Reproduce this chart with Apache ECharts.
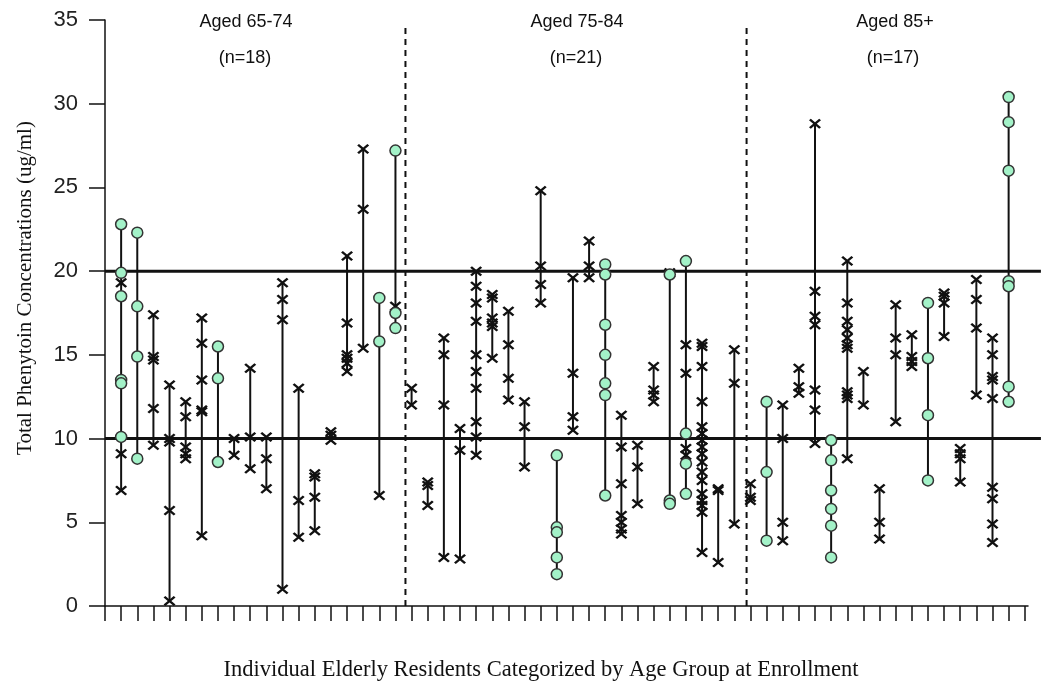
<!DOCTYPE html>
<html><head><meta charset="utf-8">
<script src="https://cdn.jsdelivr.net/npm/echarts@6/dist/echarts.min.js"></script>
<style>html,body{margin:0;padding:0;background:#fff}#c{width:1050px;height:688px}</style>
</head><body><div id="c"></div><script>
// ---- data ----
const groupTitles = ['Aged 65-74', 'Aged 75-84', 'Aged 85+'];
const groupCounts = ['(n=18)', '(n=21)', '(n=17)'];
const yTickValues = [0, 5, 10, 15, 20, 25, 30, 35];
const referenceLevels = [10, 20];

// one entry per resident; crosses = "x" marks, circles = green circles
const crosses6574 = [
  [19.3, 9.1, 6.9], [], [17.4, 14.9, 14.7, 11.8, 9.6], [13.2, 10.0, 9.8, 5.7, 0.3],
  [12.2, 11.3, 9.5, 9.1, 8.8], [17.2, 15.7, 13.5, 11.7, 11.6, 4.2], [], [10.0, 9.0],
  [14.2, 10.1, 8.2], [10.1, 8.8, 7.0], [19.3, 18.3, 17.1, 1.0], [13.0, 6.3, 4.1],
  [7.9, 7.7, 6.5, 4.5], [10.4, 10.2, 9.9], [20.9, 16.9, 15.0, 14.8, 14.5, 14.0],
  [27.3, 23.7, 15.4], [6.6], [17.9]
];
const circles6574 = [
  [22.8, 19.9, 18.5, 13.5, 13.3, 10.1], [22.3, 17.9, 14.9, 8.8], [], [],
  [], [], [15.5, 13.6, 8.6], [],
  [], [], [], [],
  [], [], [],
  [], [18.4, 15.8], [27.2, 17.5, 16.6]
];
const crosses7584 = [
  [13.0, 12.0], [7.4, 7.2, 6.0], [16.0, 15.0, 12.0, 2.9], [10.6, 9.3, 2.8],
  [20.0, 19.1, 18.1, 17.0, 15.0, 14.0, 13.0, 11.0, 10.1, 9.0],
  [18.6, 18.4, 17.2, 16.9, 16.7, 14.8], [17.6, 15.6, 13.6, 12.3], [12.2, 10.7, 8.3],
  [24.8, 20.3, 19.2, 18.1], [], [19.6, 13.9, 11.3, 10.5], [21.8, 20.3, 19.6], [],
  [11.4, 9.5, 7.3, 5.4, 5.0, 4.6, 4.3], [9.6, 8.3, 6.1], [14.3, 12.9, 12.6, 12.2],
  [19.9], [15.6, 13.9, 9.4, 9.0],
  [15.7, 15.5, 14.3, 12.2, 10.7, 10.3, 9.9, 9.5, 9.1, 8.6, 8.0, 7.5, 6.7, 6.3, 6.0, 5.6, 3.2],
  [7.0, 6.9, 2.6], [15.3, 13.3, 4.9]
];
const circles7584 = [
  [], [], [], [], [], [], [], [], [], [9.0, 4.7, 4.4, 2.9, 1.9], [], [],
  [20.4, 19.8, 16.8, 15.0, 13.3, 12.6, 6.6], [], [], [],
  [19.8, 6.3, 6.1], [20.6, 10.3, 8.5, 6.7], [], [], []
];
const crosses85 = [
  [7.3, 6.5, 6.3], [], [12.0, 10.0, 5.0, 3.9], [14.2, 13.1, 12.7],
  [28.8, 18.8, 17.3, 16.8, 12.9, 11.7, 9.7], [],
  [20.6, 18.1, 17.0, 16.5, 16.0, 15.6, 15.4, 12.8, 12.6, 12.4, 8.8],
  [14.0, 12.0], [7.0, 5.0, 4.0], [18.0, 16.0, 15.0, 11.0], [16.2, 14.9, 14.6, 14.3],
  [], [18.7, 18.5, 18.1, 16.1], [9.4, 9.1, 8.8, 7.4], [19.5, 18.3, 16.6, 12.6],
  [16.0, 15.0, 13.7, 13.5, 12.4, 7.1, 6.4, 4.9, 3.8], []
];
const circles85 = [
  [], [12.2, 8.0, 3.9], [], [], [], [9.9, 8.7, 6.9, 5.8, 4.8, 2.9], [], [], [], [], [],
  [18.1, 14.8, 11.4, 7.5], [], [], [], [], [30.4, 28.9, 26.0, 19.4, 19.1, 13.1, 12.2]
];

// ---- build series data ----
const groups = [[crosses6574, circles6574], [crosses7584, circles7584], [crosses85, circles85]];
const crossData = [], circleData = [], rangeData = [], groupSpans = [];
let idx = 1;
groups.forEach(([cr, ci]) => {
  const start = idx;
  cr.forEach((list, j) => {
    const all = list.concat(ci[j]);
    list.forEach(v => crossData.push([idx, v]));
    ci[j].forEach(v => circleData.push([idx, v]));
    rangeData.push([idx, Math.min.apply(null, all), Math.max.apply(null, all)]);
    idx++;
  });
  groupSpans.push([start, idx - 1]);
});
const nTicks = idx + 1; // ticks 0 .. idx
const tickValues = Array.from({length: nTicks}, (_, i) => i);
const dividerData = [[groupSpans[0][1] + 0.62, 0, 34.6], [groupSpans[1][1] + 0.76, 0, 34.6]];
const refData = referenceLevels.map(v => [0, 58.0, v]);

const crossPath = 'path://M1.5,0 L5,3.5 L8.5,0 L10,1.5 L6.5,5 L10,8.5 L8.5,10 L5,6.5 L1.5,10 L0,8.5 L3.5,5 L0,1.5 Z';

const chart = echarts.init(document.getElementById('c'), null, {renderer: 'canvas'});
chart.setOption({
  animation: false,
  backgroundColor: '#fff',
  grid: {left: 105, right: 22, top: 20, bottom: 82},
  xAxis: {
    type: 'value', min: 0, max: 57.2, interval: 1,
    axisLine: {show: true, lineStyle: {color: '#111', width: 1.5}},
    axisTick: {show: true, inside: false, length: 15, customValues: tickValues, lineStyle: {color: '#111', width: 1.5}},
    axisLabel: {show: false},
    splitLine: {show: false}
  },
  yAxis: {
    type: 'value', min: 0, max: 35, interval: 5,
    axisLine: {show: true, lineStyle: {color: '#111', width: 1.5}},
    axisTick: {show: true, inside: false, length: 16, lineStyle: {color: '#111', width: 1.5}},
    axisLabel: {margin: 27, fontFamily: 'Liberation Sans', fontSize: 22, color: '#222',
      formatter: v => yTickValues.indexOf(v) >= 0 ? String(v) : ''},
    splitLine: {show: false}
  },
  graphic: [
    {type: 'text', left: 'center', x: 0, style: {text: ''}},
    ...groupTitles.map((t, i) => ({type: 'text', x: [246, 577, 895][i], y: 22, style: {text: t, fontFamily: 'Liberation Sans', fontSize: 18, fill: '#111', align: 'center', verticalAlign: 'middle'}})),
    ...groupCounts.map((t, i) => ({type: 'text', x: [245, 576, 893][i], y: 58, style: {text: t, fontFamily: 'Liberation Sans', fontSize: 18, fill: '#111', align: 'center', verticalAlign: 'middle'}})),
    {type: 'text', x: 541, y: 670, style: {text: 'Individual Elderly Residents Categorized by Age Group at Enrollment', fontFamily: 'Liberation Serif', fontSize: 22.5, fill: '#111', align: 'center', verticalAlign: 'middle'}},
    {type: 'text', x: 25, y: 288, rotation: Math.PI / 2, style: {text: 'Total Phenytoin Concentrations (ug/ml)', fontFamily: 'Liberation Serif', fontSize: 21, fill: '#111', align: 'center', verticalAlign: 'middle'}}
  ],
  series: [
    {
      type: 'custom', data: refData, z: 1, silent: true,
      encode: {x: [0, 1], y: 2},
      renderItem: (p, api) => {
        const a = api.coord([api.value(0), api.value(2)]);
        const b = api.coord([api.value(1), api.value(2)]);
        return {type: 'line', shape: {x1: a[0], y1: a[1], x2: b[0], y2: b[1]}, style: {stroke: '#111', lineWidth: 3}};
      }
    },
    {
      type: 'custom', data: dividerData, z: 1, silent: true,
      encode: {x: 0, y: [1, 2]},
      renderItem: (p, api) => {
        const a = api.coord([api.value(0), api.value(1)]);
        const b = api.coord([api.value(0), api.value(2)]);
        return {type: 'line', shape: {x1: a[0], y1: a[1], x2: b[0], y2: b[1]}, style: {stroke: '#111', lineWidth: 2, lineDash: [6, 5]}};
      }
    },
    {
      type: 'custom', data: rangeData, z: 2, silent: true,
      encode: {x: 0, y: [1, 2]},
      renderItem: (p, api) => {
        const a = api.coord([api.value(0), api.value(1)]);
        const b = api.coord([api.value(0), api.value(2)]);
        return {type: 'line', shape: {x1: a[0], y1: a[1], x2: b[0], y2: b[1]}, style: {stroke: '#111', lineWidth: 2}};
      }
    },
    {
      type: 'scatter', data: crossData, z: 3, symbol: crossPath, symbolSize: [12, 10],
      itemStyle: {color: '#111', opacity: 1}
    },
    {
      type: 'scatter', data: circleData, z: 4, symbol: 'circle', symbolSize: 11,
      itemStyle: {color: '#a3f2c8', borderColor: '#333', borderWidth: 1.5, opacity: 1}
    }
  ]
});
</script></body></html>
